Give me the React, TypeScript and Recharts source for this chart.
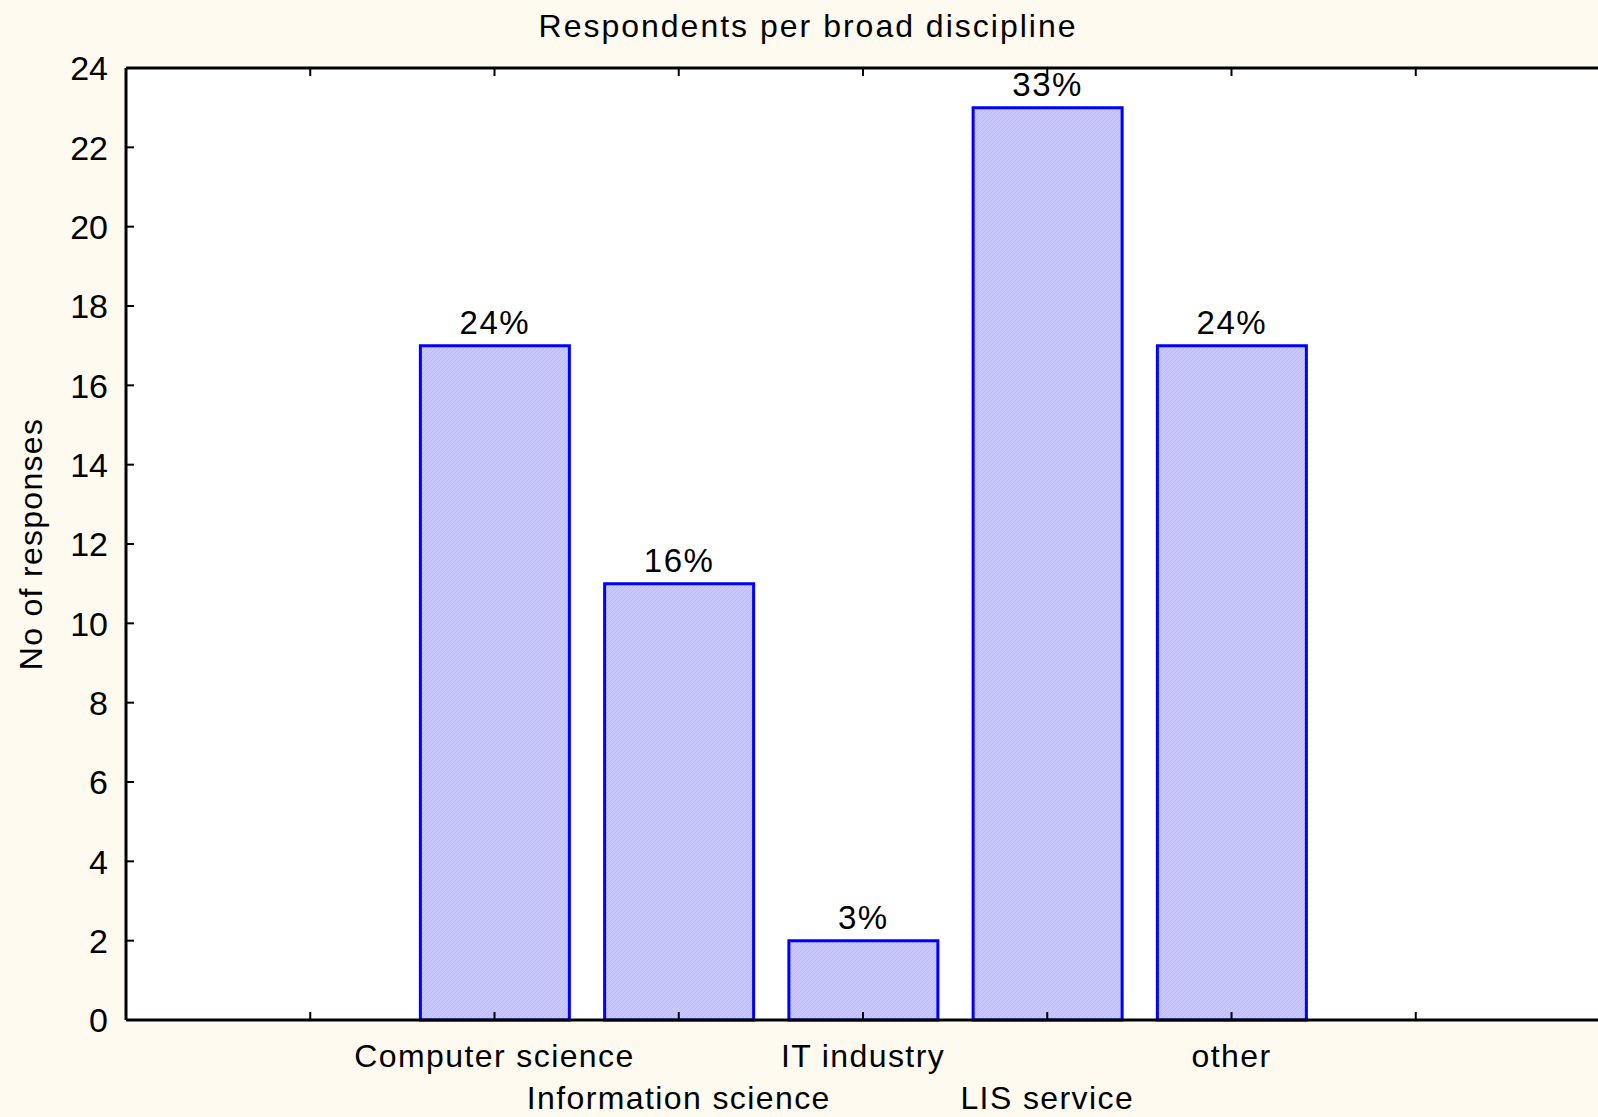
import { Bar, BarChart, CartesianGrid, Label, LabelList, XAxis, YAxis } from 'recharts'

const categories = ['Computer science', 'Information science', 'IT industry', 'LIS service', 'other']
const responses = [17, 11, 2, 23, 17]
const shares = ['24%', '16%', '3%', '33%', '24%']
const yTicks = [0, 2, 4, 6, 8, 10, 12, 14, 16, 18, 20, 22, 24]
const xTicks = [1, 2, 3, 4, 5, 6, 7]
// first category sits on the second tick of the 0..8 axis
const FIRST_SLOT = 2

const data = categories.map((name, i) => ({
  slot: i + FIRST_SLOT,
  name,
  count: responses[i],
  share: shares[i],
}))

const FONT = '"Liberation Sans", Arial, sans-serif'
const BG = '#fefaef'

function BottomTick({ x, y, payload }: any) {
  const i = payload.value - FIRST_SLOT
  const name = categories[i]
  return (
    <g>
      <line x1={x} x2={x} y1={y} y2={y - 8} stroke="#000" strokeWidth={2} />
      {name && (
        <text x={x} y={i % 2 === 0 ? y + 47 : y + 89} textAnchor="middle" fontSize={32} letterSpacing={1.4} fill="#000" fontFamily={FONT}>
          {name}
        </text>
      )}
    </g>
  )
}

function TopTick({ x, y }: any) {
  return <line x1={x} x2={x} y1={y} y2={y + 8} stroke="#000" strokeWidth={2} />
}

function LeftTick({ x, y, payload }: any) {
  return (
    <g>
      <line x1={x} x2={x + 8} y1={y} y2={y} stroke="#000" strokeWidth={2} />
      <text x={x - 18} y={y} dy="0.36em" textAnchor="end" fontSize={34} fill="#000" fontFamily={FONT}>
        {payload.value}
      </text>
    </g>
  )
}

function YTitle({ viewBox }: any) {
  const cy = viewBox.y + viewBox.height / 2
  return (
    <text x={42} y={cy} transform={`rotate(-90, 42, ${cy})`} textAnchor="middle" fontSize={32} letterSpacing={1.3} fill="#000" fontFamily={FONT}>
      No of responses
    </text>
  )
}

export default function App() {
  return (
    <div style={{ position: 'absolute', left: 0, top: 0, width: 1598, height: 1117, overflow: 'hidden', background: BG, fontFamily: FONT }}>
      <div style={{ position: 'absolute', left: 808, top: 10, transform: 'translateX(-50%)', fontSize: 32, lineHeight: '32px', letterSpacing: 2, whiteSpace: 'nowrap', color: '#000' }}>
        Respondents per broad discipline
      </div>
      <BarChart width={1610} height={1117} data={data} margin={{ top: 38, right: 10, bottom: 67, left: 0 }}>
        <defs>
          <pattern id="hatch" patternUnits="userSpaceOnUse" width={4} height={4}>
            <rect width={4} height={4} fill="#c8c8ff" />
            <path d="M-1,1 l2,-2 M0,4 l4,-4 M3,5 l2,-2" stroke="#babaf4" strokeWidth={1} />
          </pattern>
        </defs>
        <rect x={126} y={68} width={1474} height={952} fill="#fff" />
        <CartesianGrid vertical={false} stroke="#cccccc" strokeDasharray="4 3" fill="#fff" />
        <Bar dataKey="count" barSize={149} fill="url(#hatch)" stroke="#0000ff" strokeWidth={3} isAnimationActive={false}>
          <LabelList dataKey="share" position="top" offset={12} fontSize={33} letterSpacing={1.5} fill="#000" fontFamily={FONT} />
        </Bar>
        <XAxis
          dataKey="slot"
          type="number"
          domain={[0, 8]}
          ticks={xTicks}
          interval={0}
          height={30}
          tickSize={0}
          tickMargin={0}
          tickLine={false}
          axisLine={{ stroke: '#000', strokeWidth: 3 }}
          tick={<BottomTick />}
        />
        <XAxis
          xAxisId="top"
          orientation="top"
          dataKey="slot"
          type="number"
          domain={[0, 8]}
          ticks={xTicks}
          interval={0}
          height={30}
          tickSize={0}
          tickMargin={0}
          tickLine={false}
          axisLine={{ stroke: '#000', strokeWidth: 3 }}
          tick={<TopTick />}
        />
        <YAxis
          type="number"
          domain={[0, 24]}
          ticks={yTicks}
          interval={0}
          width={126}
          tickSize={0}
          tickMargin={0}
          tickLine={false}
          axisLine={{ stroke: '#000', strokeWidth: 3 }}
          tick={<LeftTick />}
        >
          <Label content={<YTitle />} />
        </YAxis>
      </BarChart>
    </div>
  )
}
